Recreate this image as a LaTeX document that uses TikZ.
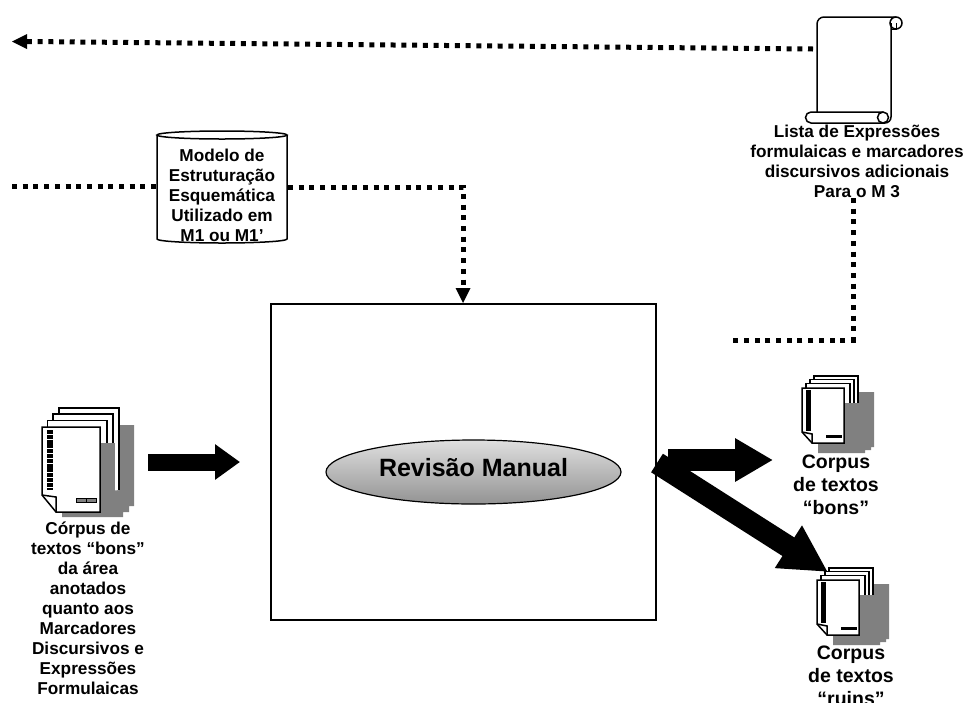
\documentclass[tikz,border=0pt]{standalone}
\usepackage{fontspec}
\setmainfont{Liberation Sans}
\usetikzlibrary{arrows.meta,shapes.geometric}
\definecolor{shadow}{gray}{.5}
\tikzset{
  x=1pt, y=-1pt,
  label/.style = {align=center, inner sep=0pt, font=\bfseries\fontsize{17.2}{20}\selectfont},
  biglabel/.style = {align=center, inner sep=0pt, font=\bfseries\fontsize{19.5}{23}\selectfont},
  dotline/.style = {line width=5pt, dash pattern=on 5pt off 5.7pt},
  outline/.style = {line width=1.5pt},
  bigarrow/.style n args = {3}{line width=#1, -{Triangle[length=#2, width=#3]}},
  sheet/.style = {draw, fill=white, line width=1.5pt},
  pics/bigstack/.style = {code = {
    \fill[shadow] (20,85) -- (20,-2) -- (92,-2) -- (92,79) -- (87,79) -- (87,85) -- (81,85) -- (81,90) -- (20,90) -- cycle;
    \draw[sheet] (17,70) -- (17,-19) -- (77,-19) -- (77,63);
    \draw[sheet] (11,-13) rectangle (71,40);
    \draw[sheet] (5.5,-6.5) rectangle (65,40);
    \fill[shadow] (56,16) rectangle (73,85);
    \draw[sheet] (0,0) -- (58,0) -- (58,85) -- (14,85) -- (0,68) -- cycle;
    \draw[outline] (0,68) -- (14,70) -- (14,85);
    \draw[line width=6pt, dash pattern=on 4pt off .8pt] (8,3) -- (8,63);
    \draw[line width=1pt, fill=shadow] (34,71.5) rectangle (44,75) (44,71.5) rectangle (54,75);
  }},
  pics/smallstack/.style = {code = {
    \draw[sheet] (12,30) -- (12,-12) -- (56,-12) -- (56,30);
    \draw[sheet] (8,-8.5) rectangle (52,30);
    \draw[sheet] (4,-4.5) rectangle (48,30);
    \fill[shadow] (16,65) -- (16,15) -- (57,15) -- (57,4) -- (72,4) -- (72,59) -- (69,59) -- (69,62) -- (63,62) -- (63,65) -- cycle;
    \draw[sheet] (0,0) -- (42,0) -- (42,55) -- (10,55) -- (0,44) -- cycle;
    \draw[outline] (0,44) -- (10,46) -- (10,55);
    \draw[line width=5pt] (6,2) -- (6,43);
    \draw[line width=3pt] (24,48) -- (40,48);
  }}
}
\begin{document}
\begin{tikzpicture}
    \clip (0,0) rectangle (966,702);

    % the review box
    \node[draw, line width=1.2pt, minimum width=385pt, minimum height=316pt] (revisao) at (463.5,462) {};
    \node[ellipse, draw, line width=1.2pt, top color=gray!25, middle color=gray!10, bottom color=gray!85, minimum width=295pt, minimum height=64pt] (manual) at (473.5,472) {};
    \node[font=\bfseries\fontsize{25}{30}\selectfont, inner sep=0pt] (manualtxt) at (473.5,468) {Revisão Manual};

    % model
    \draw[outline] (157,135) -- (157,239) arc[start angle=180, end angle=0, x radius=65, y radius=4] -- (287,135);
    \draw[outline] (222,135) ellipse[x radius=65, y radius=4];
    \node[label] (modelo) at (222,195) {Modelo de\\Estruturação\\Esquemática\\Utilizado em\\M1 ou M1’};
    \coordinate (esq) at (12,186);
    \coordinate (modeloesq) at (157,186);
    \coordinate (modelodir) at (288,187);
    \coordinate (dobra) at (463,187);
    \coordinate (entra) at (463,303);
    \draw[dotline] (esq) -- (modeloesq);
    \draw[dotline] (modelodir) -- (dobra) -- ([yshift=15pt]entra);
    \fill (entra) -- ++(-7.5,-15) -- ++(15,0) -- cycle;

    % scroll
    \draw[outline] (817,112) -- (817,24) arc[start angle=180, end angle=270, radius=7] -- (896,17);
    \draw[outline] (896,23) circle[radius=6];
    \draw[outline] (891,23) -- (891,117) arc[start angle=0, end angle=90, radius=6] -- (811,123) arc[start angle=90, end angle=270, radius=5.5] -- (883,112);
    \draw[outline] (883,117.5) circle[radius=5.5];
    \draw[line width=1pt] (891,29) -- (896,29) -- (896,23);
    \node[label] (lista) at (857,161) {Lista de Expressões\\formulaicas e marcadores\\discursivos adicionais\\Para o M 3};
    \coordinate (seta) at (12,41.5);
    \coordinate (saida) at (813,49);
    \draw[dotline] (saida) -- ([xshift=15pt]seta);
    \fill (seta) -- ++(15,-7.5) -- ++(0,15) -- cycle;
    \coordinate (desce) at (853,340);
    \coordinate (topo) at (853,198);
    \coordinate (fim) at (733,340);
    \draw[dotline] (topo) -- (desce) -- (fim);

    % input corpus
    \pic at (42,427) {bigstack};
    \node[label] (entrada) at (88,608) {Córpus de\\textos “bons”\\da área\\anotados\\quanto aos\\Marcadores\\Discursivos e\\Expressões\\Formulaicas};
    \coordinate (e1) at (148,462);
    \coordinate (e2) at (240,462);
    \draw[bigarrow={17pt}{25pt}{34pt}] (e1) -- (e2);

    % output corpora
    \pic at (802,388) {smallstack};
    \node[biglabel] (bons) at (836,485) {Corpus\\de textos\\“bons”};
    \pic at (817,580) {smallstack};
    \node[biglabel] (ruins) at (851,676) {Corpus\\de textos\\“ruins”};
    \coordinate (s1) at (668,460);
    \coordinate (s2) at (773,460);
    \coordinate (s3) at (657,463);
    \coordinate (s4) at (828,572);
    \draw[bigarrow={22pt}{38pt}{41pt}] (s1) -- (s2);
    \draw[bigarrow={22pt}{47pt}{47pt}] (s3) -- (s4);
\end{tikzpicture}
\end{document}
